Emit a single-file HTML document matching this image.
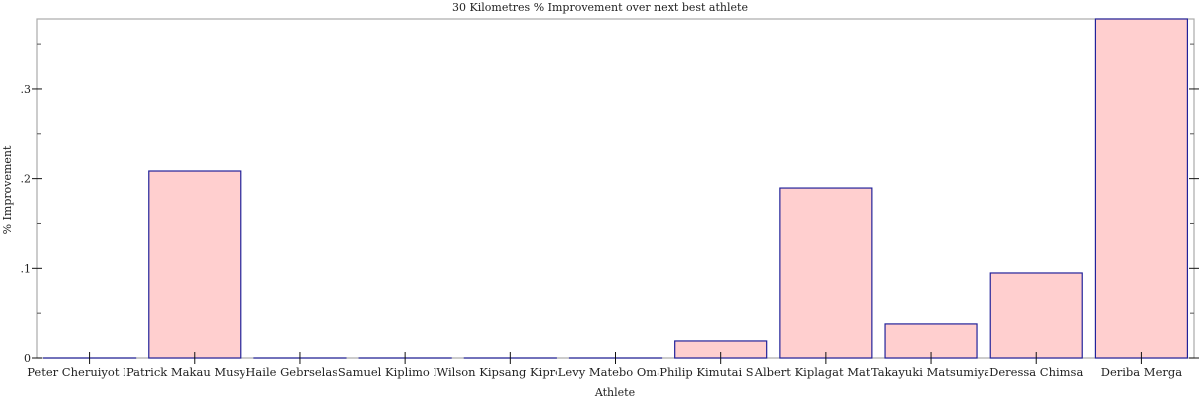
<!DOCTYPE html>
<html><head><meta charset="utf-8"><style>
body{margin:0;background:#fff;}
svg text{font-family:"DejaVu Serif","Liberation Serif",serif;fill:#222;}
</style></head><body>
<svg id="chart" width="1200" height="400" xmlns="http://www.w3.org/2000/svg">
<text x="600" y="11" font-size="11" text-anchor="middle">30 Kilometres % Improvement over next best athlete</text>
<text x="615" y="396" font-size="11" text-anchor="middle">Athlete</text>
<text transform="translate(11,190) rotate(-90)" font-size="11" text-anchor="middle">% Improvement</text>
<g id="plot"></g>
</svg>
<script>
const categories=["Peter Cheruiyot Kirui","Patrick Makau Musyoki","Haile Gebrselassie","Samuel Kiplimo Kosgei","Wilson Kipsang Kiprotich","Levy Matebo Omari","Philip Kimutai Sanga","Albert Kiplagat Matebor","Takayuki Matsumiya","Deressa Chimsa","Deriba Merga"];
const values=[0,0.2085,0,0,0,0,0.019,0.1895,0.038,0.0948,0.378];
const yTicks=[0,0.1,0.2,0.3];
const yTickLabels=["0",".1",".2",".3"];
const L=37,R=1194,T=19,B=358,yMax=0.378;
const NS="http://www.w3.org/2000/svg";
const g=document.getElementById('plot');
const band=(R-L)/categories.length;
const x=i=>L+band*(i+0.5);
const y=v=>B-(v/yMax)*(B-T);
function mk(t,a){const e=document.createElementNS(NS,t);for(const k in a)e.setAttribute(k,a[k]);g.appendChild(e);return e;}
const frame=mk('rect',{x:L,y:T,width:R-L,height:B-T,fill:'none',stroke:'#aaa','stroke-width':1.2});


for(let v=0.05;v<yMax;v+=0.1){
  const yy=y(v);
  const m1=mk('line',{x1:L,x2:L+4,y1:yy,y2:yy,stroke:'#555'});
  
  
  const m2=mk('line',{x1:R-4,x2:R,y1:yy,y2:yy,stroke:'#555'});
  
  
}
yTicks.forEach((v,i)=>{
  const yy=y(v);
  const t=mk('line',{x1:L-5,x2:L+5,y1:yy,y2:yy,stroke:'#111'});
  
  
  const t2=mk('line',{x1:R-5,x2:R+5,y1:yy,y2:yy,stroke:'#111'});
  
  
  const lb=mk('text',{x:L-6,y:yy+4,'font-size':11,'text-anchor':'end'});
  lb.textContent=yTickLabels[i];
  
  
});
categories.forEach((c,i)=>{
  const cx=x(i),w=92,v=values[i];
  const r=mk('rect',{x:cx-w/2,y:y(v),width:w,height:Math.max(B-y(v),0.01),fill:'#ffcfcf',stroke:'#22229a','stroke-width':1.2});
  
  
  const tk=mk('line',{x1:cx,x2:cx,y1:B-6,y2:B+6,stroke:'#111'});
  
  
});
categories.forEach((c,i)=>{
  const cx=x(i);
  const bg=mk('rect',{x:0,y:B+8,width:0,height:13,fill:'#fff'});
  
  
  const lb=mk('text',{x:cx,y:B+18,'font-size':11.5,'text-anchor':'middle'});
  lb.textContent=c;
  
  
  const bb=lb.getBBox();
  bg.setAttribute('x',bb.x-1);
  bg.setAttribute('width',bb.width+2);
});
</script>
</body></html>
